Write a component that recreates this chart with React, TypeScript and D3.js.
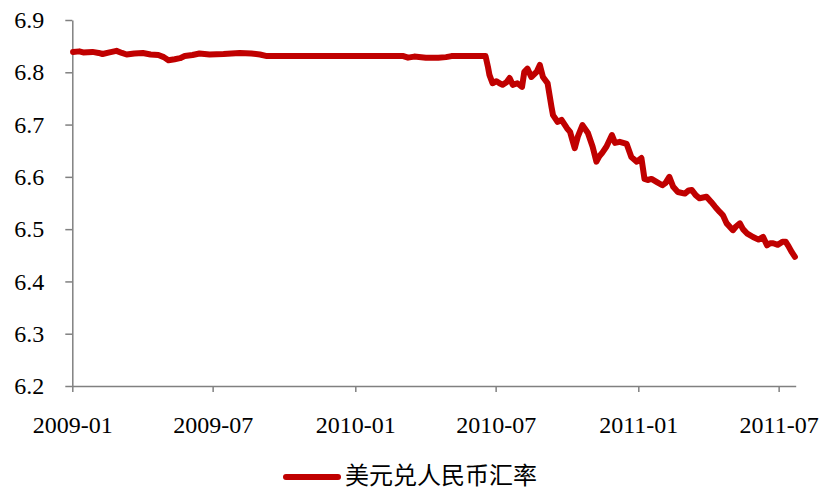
import { useEffect, useRef } from 'react';
import * as d3 from 'd3';

// USD/CNY daily rate
const dates = [
  '2009-01-02', '2009-01-10', '2009-01-15', '2009-01-27', '2009-02-04', '2009-02-09',
  '2009-02-18', '2009-02-27', '2009-03-06', '2009-03-12', '2009-03-22', '2009-04-02',
  '2009-04-12', '2009-04-22', '2009-04-29', '2009-05-05', '2009-05-13', '2009-05-20',
  '2009-05-26', '2009-06-05', '2009-06-14', '2009-06-27', '2009-07-15', '2009-08-05',
  '2009-08-20', '2009-08-31', '2009-09-09', '2010-03-04', '2010-03-10', '2010-03-18',
  '2010-04-02', '2010-04-18', '2010-04-28', '2010-05-05', '2010-06-18', '2010-06-21',
  '2010-06-23', '2010-06-27', '2010-07-02', '2010-07-06', '2010-07-10', '2010-07-15',
  '2010-07-19', '2010-07-23', '2010-07-29', '2010-08-04', '2010-08-07', '2010-08-11',
  '2010-08-16', '2010-08-23', '2010-08-27', '2010-08-31', '2010-09-06', '2010-09-11',
  '2010-09-13', '2010-09-19', '2010-09-24', '2010-10-01', '2010-10-05', '2010-10-08',
  '2010-10-11', '2010-10-15', '2010-10-21', '2010-10-28', '2010-11-03', '2010-11-08',
  '2010-11-12', '2010-11-15', '2010-11-21', '2010-11-28', '2010-12-02', '2010-12-08',
  '2010-12-17', '2010-12-23', '2010-12-30', '2011-01-05', '2011-01-09', '2011-01-13',
  '2011-01-18', '2011-01-25', '2011-02-01', '2011-02-05', '2011-02-10', '2011-02-15',
  '2011-02-21', '2011-03-02', '2011-03-07', '2011-03-11', '2011-03-16', '2011-03-21',
  '2011-03-30', '2011-04-05', '2011-04-10', '2011-04-16', '2011-04-20', '2011-04-25',
  '2011-05-03', '2011-05-07', '2011-05-12', '2011-05-16', '2011-05-21', '2011-05-29',
  '2011-06-05', '2011-06-11', '2011-06-16', '2011-06-20', '2011-06-24', '2011-06-30',
  '2011-07-06', '2011-07-10', '2011-07-13', '2011-07-18', '2011-07-22'
];

const rates = [
  6.839, 6.840, 6.838, 6.839, 6.837, 6.835,
  6.838, 6.841, 6.837, 6.834, 6.836, 6.837,
  6.834, 6.833, 6.829, 6.823, 6.825, 6.827,
  6.831, 6.833, 6.836, 6.834, 6.835, 6.837,
  6.836, 6.834, 6.831, 6.831, 6.828, 6.830,
  6.828, 6.828, 6.829, 6.831, 6.831, 6.811,
  6.795, 6.779, 6.783, 6.779, 6.776, 6.781,
  6.789, 6.776, 6.779, 6.772, 6.801, 6.807,
  6.791, 6.801, 6.814, 6.791, 6.779, 6.734,
  6.718, 6.705, 6.709, 6.693, 6.686, 6.670,
  6.655, 6.677, 6.699, 6.684, 6.658, 6.629,
  6.640, 6.645, 6.658, 6.680, 6.665, 6.667,
  6.663, 6.638, 6.629, 6.636, 6.596, 6.594,
  6.596, 6.590, 6.584, 6.588, 6.600, 6.581,
  6.571, 6.568, 6.574, 6.575, 6.565, 6.559,
  6.562, 6.552, 6.543, 6.533, 6.527, 6.511,
  6.498, 6.505, 6.511, 6.500, 6.492, 6.485,
  6.480, 6.485, 6.469, 6.473, 6.473, 6.470,
  6.476, 6.476, 6.469, 6.456, 6.447
];

const yTicks = [6.2, 6.3, 6.4, 6.5, 6.6, 6.7, 6.8, 6.9];
const xTickDates = ['2009-01-01', '2009-07-01', '2010-01-01', '2010-07-01', '2011-01-01', '2011-07-01'];
const seriesName = '美元兑人民币汇率';

const parse = d3.timeParse('%Y-%m-%d');
const fontFamily = "'Liberation Serif', 'DejaVu Serif', 'Noto Sans CJK SC', serif";

export default function App() {
  const svgRef = useRef<SVGSVGElement>(null);

  useEffect(() => {
    if (!svgRef.current) return;
    document.body.style.margin = '0';

    const svg = d3.select(svgRef.current);
    svg.selectAll('*').remove();

    const points = dates.map((d, i) => ({ date: parse(d) as Date, value: rates[i] }));

    const x = d3.scaleTime()
      .domain([parse('2009-01-01') as Date, parse('2011-07-23') as Date])
      .range([72.3, 795.7]);

    const y = d3.scaleLinear()
      .domain([6.2, 6.9])
      .range([386, 20]);

    // Y axis
    const yAxis = svg.append('g')
      .attr('transform', `translate(${x.range()[0]},0)`)
      .call(d3.axisLeft(y).tickValues(yTicks).tickSize(7).tickSizeOuter(0).tickPadding(21).tickFormat(d3.format('.1f')));
    yAxis.attr('font-family', null).attr('font-size', null);
    yAxis.selectAll('line, path').attr('stroke', '#808080').attr('stroke-width', 1.5);
    yAxis.selectAll('text')
      .attr('fill', '#000')
      .style('font-size', '24px')
      .style('font-family', fontFamily);

    // X axis
    const xAxis = svg.append('g')
      .attr('transform', `translate(0,${y.range()[0]})`)
      .call(d3.axisBottom(x)
        .tickValues(xTickDates.map(d => parse(d) as Date))
        .tickSize(6)
        .tickSizeOuter(0)
        .tickPadding(24)
        .tickFormat(d => d3.timeFormat('%Y-%m')(d as Date)));
    xAxis.attr('font-family', null).attr('font-size', null);
    xAxis.selectAll('line, path').attr('stroke', '#808080').attr('stroke-width', 1.5);
    xAxis.selectAll('text')
      .attr('fill', '#000')
      .style('font-size', '24px')
      .style('font-family', fontFamily);

    // Series line
    const line = d3.line<{ date: Date; value: number }>()
      .x(d => x(d.date))
      .y(d => y(d.value));

    svg.append('path')
      .datum(points)
      .attr('fill', 'none')
      .attr('stroke', '#C00000')
      .attr('stroke-width', 6)
      .attr('stroke-linejoin', 'round')
      .attr('stroke-linecap', 'round')
      .attr('d', line);

    // Legend
    svg.append('line')
      .attr('x1', 286).attr('x2', 338)
      .attr('y1', 477).attr('y2', 477)
      .attr('stroke', '#C00000')
      .attr('stroke-width', 6)
      .attr('stroke-linecap', 'round');

    svg.append('text')
      .attr('x', 345)
      .attr('y', 476)
      .attr('dominant-baseline', 'central')
      .style('font-size', '24px')
      .style('font-family', fontFamily)
      .attr('fill', '#000')
      .text(seriesName);
  }, []);

  return (
    <svg
      ref={svgRef}
      width={824}
      height={489}
      style={{ display: 'block', background: '#fff' }}
    />
  );
}
